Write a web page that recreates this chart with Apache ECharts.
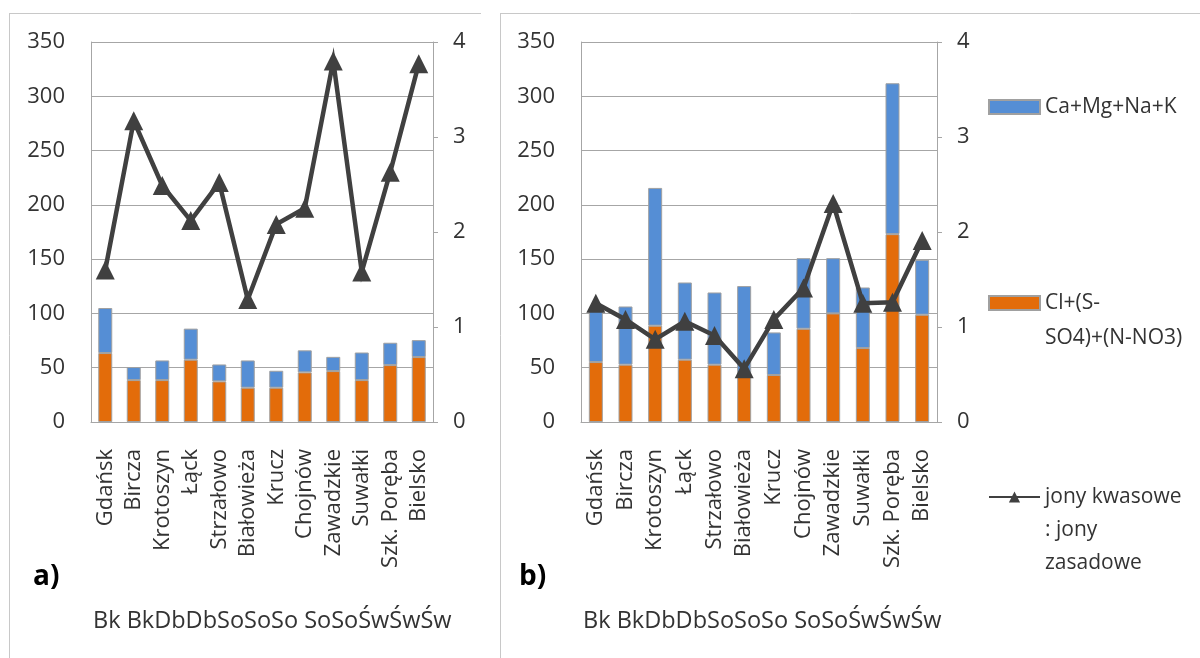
<!DOCTYPE html>
<html><head><meta charset="utf-8">
<script src="https://cdn.jsdelivr.net/npm/echarts@6/dist/echarts.min.js"></script>
<style>html,body{margin:0;padding:0;background:#fff}#c{width:1200px;height:658px}</style>
</head><body><div id="c"></div><script>
// ---- data ----
const stations = ['Gdańsk','Bircza','Krotoszyn','Łąck','Strzałowo','Białowieża','Krucz','Chojnów','Zawadzkie','Suwałki','Szk. Poręba','Bielsko'];
const groupLabel = 'Bk BkDbDbSoSoSo SoSoŚwŚwŚw';
const leftTicks = [0, 50, 100, 150, 200, 250, 300, 350];
const rightTicks = [0, 1, 2, 3, 4];
// panel a)
const anionsA  = [63.5, 38.6, 38.6, 57.4, 37.4, 31.6, 31.6, 45.7, 46.9, 38.6, 52.4, 59.8];
const cationsA = [41.5, 12.0, 18.1, 28.6, 15.6, 25.1, 15.6, 20.3, 13.1, 25.4, 20.6, 15.6];
const ratioA   = [1.60, 3.17, 2.49, 2.12, 2.52, 1.29, 2.08, 2.25, 3.80, 1.58, 2.63, 3.77];
// panel b)
const anionsB  = [55.2, 52.8, 88.7, 57.4, 52.8, 45.0, 43.3, 85.9, 100.0, 68.1, 173.0, 98.8];
const cationsB = [48.8, 53.6, 126.9, 71.1, 66.5, 80.2, 39.2, 65.0, 50.9, 55.8, 139.0, 50.6];
const ratioB   = [1.25, 1.08, 0.87, 1.06, 0.91, 0.56, 1.08, 1.41, 2.30, 1.25, 1.26, 1.91];

const SER_CAT = 'Ca+Mg+Na+K';
const SER_AN = 'Cl+(S-SO4)+(N-NO3)';
const SER_RATIO = 'jony kwasowe : jony zasadowe';

// ---- styles ----
const FONT = 'Open Sans';
const TXT = '#333333';
const GRID = '#a6a6a6';
const BLUE = '#558ed5';
const ORANGE = '#e36c0a';
const LINE = '#404040';

const chart = echarts.init(document.getElementById('c'), null, {renderer: 'canvas'});

function xAxis(gi) {
  return {
    type: 'category', gridIndex: gi, data: stations, boundaryGap: true,
    axisLine: {show: true, lineStyle: {color: GRID, width: 1}},
    axisTick: {show: false},
    axisLabel: {interval: 0, hideOverlap: false, rotate: 90, margin: 27, fontFamily: FONT, fontSize: 22, color: TXT}
  };
}
function yLeft(gi) {
  return {
    type: 'value', gridIndex: gi, position: 'left',
    min: leftTicks[0], max: leftTicks[leftTicks.length - 1], interval: leftTicks[1] - leftTicks[0],
    axisLine: {show: true, lineStyle: {color: GRID}},
    axisTick: {show: false},
    splitLine: {show: true, lineStyle: {color: GRID, width: 1}},
    axisLabel: {margin: 26, fontFamily: FONT, fontSize: 22, color: TXT}
  };
}
function yRight(gi) {
  return {
    type: 'value', gridIndex: gi, position: 'right',
    min: rightTicks[0], max: rightTicks[rightTicks.length - 1], interval: rightTicks[1] - rightTicks[0],
    axisLine: {show: true, lineStyle: {color: GRID}},
    axisTick: {show: true, inside: false, length: 5, lineStyle: {color: GRID}},
    splitLine: {show: false},
    axisLabel: {margin: 20, fontFamily: FONT, fontSize: 22, color: TXT}
  };
}
function barSeries(name, data, color, xi, yi, stack) {
  return {
    type: 'bar', name, data, stack, xAxisIndex: xi, yAxisIndex: yi,
    barWidth: 14,
    itemStyle: {color, borderColor: '#a0a0a0', borderWidth: 1},
    emphasis: {disabled: true}, z: 2
  };
}
function lineSeries(data, xi, yi) {
  return {
    type: 'line', name: SER_RATIO, data, xAxisIndex: xi, yAxisIndex: yi,
    symbol: 'triangle', symbolSize: 19,
    lineStyle: {color: LINE, width: 4.5, join: 'miter'},
    itemStyle: {color: LINE},
    emphasis: {disabled: true}, z: 5
  };
}
function legend(name, top, fmt, lh, icon) {
  const l = {
    data: [name], left: 988, top, orient: 'vertical', padding: 0,
    itemWidth: 51, itemHeight: 14, itemGap: 7,
    formatter: () => fmt,
    textStyle: {fontFamily: FONT, fontSize: 21, color: TXT, lineHeight: lh}
  };
  if (icon) l.icon = icon;
  return l;
}

const option = {
  backgroundColor: '#ffffff',
  animation: false,
  grid: [
    {left: 91, right: 1200 - 433, top: 42, bottom: 658 - 422},
    {left: 581, right: 1200 - 937, top: 42, bottom: 658 - 422}
  ],
  xAxis: [xAxis(0), xAxis(1)],
  yAxis: [yLeft(0), yRight(0), yLeft(1), yRight(1)],
  legend: [
    legend(SER_CAT, 90, SER_CAT, 34, 'rect'),
    legend(SER_AN, 250.5, ' \nCl+(S-\nSO4)+(N-NO3)', 35, 'rect'),
    legend(SER_RATIO, 414.5, ' \n \njony kwasowe\n: jony\nzasadowe', 33, null)
  ],
  series: [
    barSeries(SER_AN, anionsA, ORANGE, 0, 0, 'a'),
    barSeries(SER_CAT, cationsA, BLUE, 0, 0, 'a'),
    lineSeries(ratioA, 0, 1),
    barSeries(SER_AN, anionsB, ORANGE, 1, 2, 'b'),
    barSeries(SER_CAT, cationsB, BLUE, 1, 2, 'b'),
    lineSeries(ratioB, 1, 3)
  ],
  graphic: [
    {type: 'line', shape: {x1: 10, y1: 13.5, x2: 481, y2: 13.5}, style: {stroke: '#c8c8c8', lineWidth: 1}},
    {type: 'line', shape: {x1: 9.5, y1: 13, x2: 9.5, y2: 658}, style: {stroke: '#c8c8c8', lineWidth: 1}},
    {type: 'line', shape: {x1: 501, y1: 13.5, x2: 1200, y2: 13.5}, style: {stroke: '#c8c8c8', lineWidth: 1}},
    {type: 'line', shape: {x1: 500.5, y1: 13, x2: 500.5, y2: 658}, style: {stroke: '#c8c8c8', lineWidth: 1}},
    {type: 'text', left: 33, top: 563, style: {text: 'a)', font: 'bold 28px "Open Sans"', fill: '#000'}},
    {type: 'text', left: 519, top: 563, style: {text: 'b)', font: 'bold 28px "Open Sans"', fill: '#000'}},
    {type: 'text', left: 93, top: 609, style: {text: groupLabel, font: '23.5px "Open Sans"', fill: TXT}},
    {type: 'text', left: 583, top: 609, style: {text: groupLabel, font: '23.5px "Open Sans"', fill: TXT}}
  ]
};
chart.setOption(option);
</script></body></html>
